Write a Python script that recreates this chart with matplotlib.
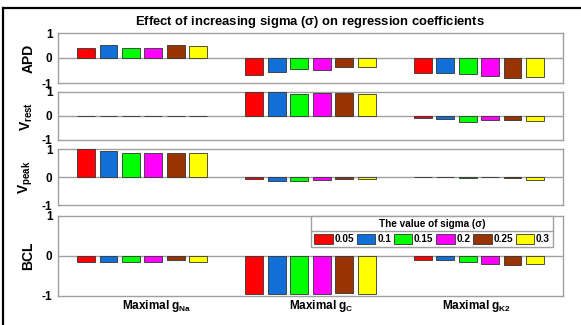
import numpy as np
import matplotlib
matplotlib.use("Agg")
import matplotlib.pyplot as plt
from matplotlib.lines import Line2D

plt.rcParams['font.family'] = ['Liberation Sans', 'DejaVu Sans']
plt.rcParams['mathtext.fontset'] = 'custom'
plt.rcParams['mathtext.rm'] = 'Liberation Sans'
plt.rcParams['mathtext.bf'] = 'Liberation Sans:bold'

# regression coefficients, one row per group (gNa, gC, gK2), one column per sigma
sigmas = ['0.05', '0.1', '0.15', '0.2', '0.25', '0.3']
groups = [r'Maximal $\mathbf{g}_{\mathbf{Na}}$',
          r'Maximal $\mathbf{g}_{\mathbf{C}}$',
          r'Maximal $\mathbf{g}_{\mathbf{K2}}$']
apd = [[0.41, 0.53, 0.41, 0.41, 0.53, 0.47],
       [-0.69, -0.56, -0.43, -0.48, -0.36, -0.37],
       [-0.59, -0.59, -0.64, -0.73, -0.80, -0.75]]
v_rest = [[-0.02, 0.0, -0.015, -0.015, -0.012, -0.02],
          [0.99, 0.99, 0.93, 0.94, 0.94, 0.93],
          [-0.08, -0.11, -0.24, -0.15, -0.18, -0.21]]
v_peak = [[0.99, 0.93, 0.87, 0.86, 0.86, 0.87],
          [-0.08, -0.14, -0.13, -0.12, -0.06, -0.06],
          [-0.005, -0.005, -0.03, -0.005, -0.04, -0.09]]
bcl = [[-0.14, -0.14, -0.14, -0.16, -0.11, -0.16],
       [-0.94, -0.94, -0.94, -0.96, -0.92, -0.94],
       [-0.09, -0.11, -0.14, -0.19, -0.22, -0.21]]

panels = [('APD', apd), (r'$\mathbf{V}_{\mathbf{rest}}$', v_rest),
          (r'$\mathbf{V}_{\mathbf{peak}}$', v_peak), ('BCL', bcl)]
colors = ['#ff0000', '#1170d8', '#00ff00', '#ff00ff', '#993300', '#ffff00']

W, H = 581, 325
fig = plt.figure(figsize=(W / 100, H / 100), dpi=100)

# axes boxes in pixels: (top, bottom)
boxes = [(33, 83), (92, 140), (149, 205), (216, 296)]
x0, x1 = 58, 563

n = len(sigmas)
step = 0.8 / n
width = step * 0.8
xg = np.arange(1, len(groups) + 1)

axes = []
for (name, vals), (top, bot) in zip(panels, boxes):
    ax = fig.add_axes([x0 / W, 1 - bot / H, (x1 - x0) / W, (bot - top) / H])
    vals = np.array(vals)
    for k in range(n):
        xs = xg - 0.4 + step * (k + 0.5)
        ax.bar(xs, vals[:, k], width=width, color=colors[k],
               edgecolor='#333333', linewidth=0.6, label=sigmas[k], zorder=3)
    ax.axhline(0, color='#a0a0a0', linewidth=1.0, zorder=2)
    ax.set_xlim(0.5, 3.5)
    ax.set_ylim(-1, 1)
    ax.set_yticks([-1, 0, 1])
    ax.set_yticklabels(['-1', '0', '1'], fontsize=8.5, fontweight='bold')
    ax.tick_params(length=0, pad=4)
    ax.set_xticks([])
    for s in ax.spines.values():
        s.set_color('#a0a0a0')
        s.set_linewidth(1.0)
    ax.set_ylabel(name, fontsize=10, fontweight='bold')
    ax.yaxis.set_label_coords(-0.045, 0.5)
    axes.append(ax)

# group labels under the last panel
for lab, xc in zip(groups, [157, 321, 477]):
    fig.text(xc / W, 1 - 309 / H, lab, ha='center', va='baseline',
             fontsize=8.5, fontweight='bold')

fig.text(310 / W, 1 - 22 / H, r'Effect of increasing sigma ($\mathbf{\sigma}$) on regression coefficients',
         ha='center', va='center', fontsize=9.4, fontweight='bold')

leg = axes[-1].legend(loc='upper right', bbox_to_anchor=(553 / W, 1 - 216 / H),
                      bbox_transform=fig.transFigure, ncol=6,
                      title='The value of sigma (σ)',
                      title_fontproperties={'weight': 'bold', 'size': 7.2},
                      prop={'weight': 'bold', 'size': 7.2},
                      handlelength=1.85, handleheight=1.15, handletextpad=0.2,
                      columnspacing=0.25, borderpad=0.3, borderaxespad=0,
                      fancybox=False, framealpha=1, edgecolor='#a0a0a0')
leg.get_frame().set_linewidth(1.0)
leg.set_zorder(5)

# separator line under the legend title
fig.canvas.draw()
lb = leg.get_window_extent()
tb = leg.get_title().get_window_extent()
ysep = (tb.y0 - 2) / H
fig.add_artist(Line2D([lb.x0 / W, lb.x1 / W], [ysep, ysep], color='#a0a0a0',
                      linewidth=1.0, transform=fig.transFigure, zorder=6))

# black frame at the top and left
fig.add_artist(Line2D([3 / W, 1], [1 - 8 / H, 1 - 8 / H], color='black',
                      linewidth=1.6, transform=fig.transFigure))
fig.add_artist(Line2D([3 / W, 3 / W], [0, 1 - 8 / H], color='black',
                      linewidth=1.6, transform=fig.transFigure))

fig.savefig('out.png', dpi=100)
